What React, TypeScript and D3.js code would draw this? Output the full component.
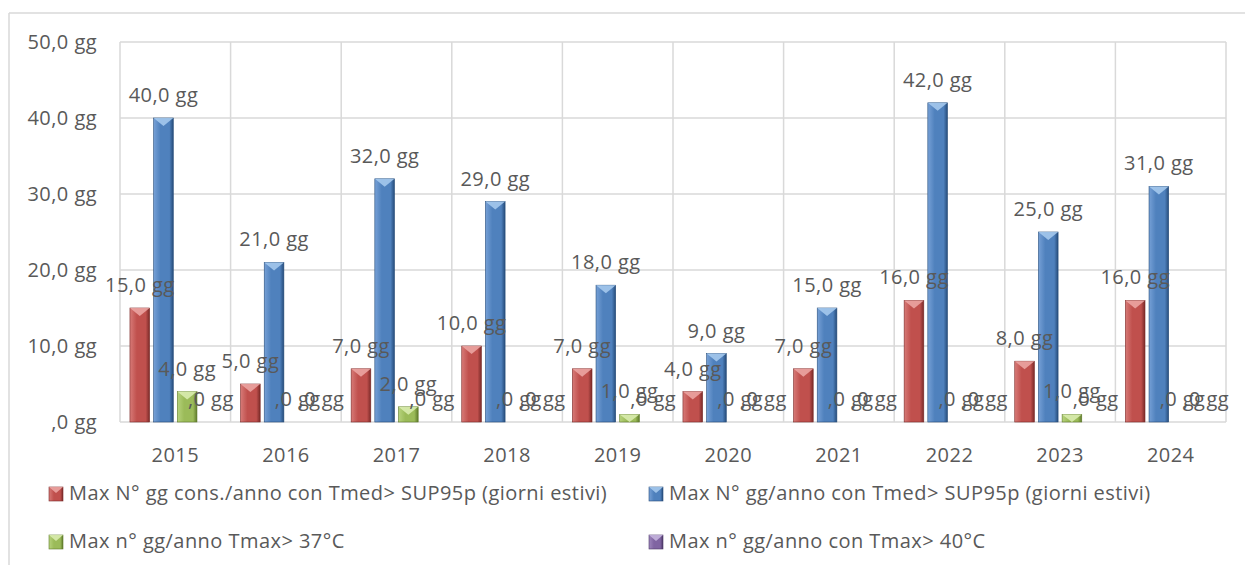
import React from "react";
import * as d3 from "d3";

const years = ["2015", "2016", "2017", "2018", "2019", "2020", "2021", "2022", "2023", "2024"];
const consDays = [15, 5, 7, 10, 7, 4, 7, 16, 8, 16];
const totalDays = [40, 21, 32, 29, 18, 9, 15, 42, 25, 31];
const over37 = [4, 0, 2, 0, 1, 0, 0, 0, 1, 0];
const over40 = [0, 0, 0, 0, 0, 0, 0, 0, 0, 0];
const yTicks = [0, 10, 20, 30, 40, 50];
const seriesNames = [
  "Max N° gg cons./anno con Tmed> SUP95p (giorni estivi)",
  "Max N° gg/anno con Tmed> SUP95p (giorni estivi)",
  "Max n° gg/anno Tmax> 37°C",
  "Max n° gg/anno con Tmax> 40°C",
];

const palette = [
  { base: "#C0504D", light: "#D77A77", dark: "#7A2A28", tip: "#EDA9A7" },
  { base: "#4F81BD", light: "#76A0D6", dark: "#264C7A", tip: "#A9CCF0" },
  { base: "#9BBB59", light: "#B7D37C", dark: "#5E7A2A", tip: "#DDEFB4" },
  { base: "#8064A2", light: "#9E86BD", dark: "#4B3766", tip: "#C9B8E0" },
];

const W = 1245;
const H = 565;
const plot = { left: 120, right: 1226, top: 42, bottom: 422 };
const FONT = "'Open Sans', 'DejaVu Sans', sans-serif";
const TEXT = "#595959";
const FS = 20;
const LS = 0.45;

const fmt = (v: number) => (v === 0 ? ",0 gg" : v.toFixed(1).replace(".", ",") + " gg");

export default function App() {
  const series = [consDays, totalDays, over37, over40];
  const x = d3.scaleBand<string>().domain(years).range([plot.left, plot.right]).padding(0);
  const inner = d3
    .scaleBand<number>()
    .domain([0, 1, 2, 3])
    .range([0, x.bandwidth()])
    .paddingOuter(0.42)
    .paddingInner(0.17);
  const y = d3.scaleLinear().domain([0, 50]).range([plot.bottom, plot.top]);
  const bw = inner.bandwidth();

  const legendPos = [
    { x: 49, y: 487 },
    { x: 649, y: 487 },
    { x: 49, y: 535 },
    { x: 649, y: 535 },
  ];

  return (
    <svg
      width={W}
      height={H}
      style={{ position: "fixed", left: 0, top: 0, background: "#fff" }}
      fontFamily={FONT}
      letterSpacing={LS}
    >
      <defs>
        {palette.map((p, i) => (
          <linearGradient key={i} id={`g${i}`} x1="0" x2="1" y1="0" y2="0">
            <stop offset="0%" stopColor={p.light} />
            <stop offset="35%" stopColor={p.base} />
            <stop offset="80%" stopColor={p.base} />
            <stop offset="100%" stopColor={p.dark} />
          </linearGradient>
        ))}
      </defs>
      {/* chart border */}
      <line x1={9} x2={W} y1={13} y2={13} stroke="#d9d9d9" strokeWidth={1.5} />
      <line x1={9} x2={9} y1={13} y2={H} stroke="#d9d9d9" strokeWidth={1.5} />

      {/* grid */}
      {yTicks.map((t) => (
        <line key={t} x1={plot.left} x2={plot.right} y1={y(t)} y2={y(t)} stroke="#d9d9d9" strokeWidth={1.5} />
      ))}
      {years.map((yr) => (
        <line key={yr} x1={x(yr)!} x2={x(yr)!} y1={plot.top} y2={plot.bottom} stroke="#d9d9d9" strokeWidth={1.5} />
      ))}
      <line x1={plot.right} x2={plot.right} y1={plot.top} y2={plot.bottom} stroke="#d9d9d9" strokeWidth={1.5} />

      {/* y labels */}
      {yTicks.map((t) => (
        <text key={t} x={97} y={y(t) + 7} textAnchor="end" fontSize={FS} fill={TEXT}>
          {fmt(t)}
        </text>
      ))}
      {/* x labels */}
      {years.map((yr) => (
        <text key={yr} x={x(yr)! + x.bandwidth() / 2} y={462} textAnchor="middle" fontSize={FS} fill={TEXT}>
          {yr}
        </text>
      ))}

      {/* bars */}
      {series.map((vals, si) =>
        vals.map((v, i) => {
          if (v === 0) return null;
          const bx = x(years[i])! + inner(si)!;
          const by = y(v);
          const h = y(0) - by;
          const tipH = Math.min(8, h);
          return (
            <g key={`${si}-${i}`}>
              <rect x={bx} y={by} width={bw} height={h} fill={`url(#g${si})`} stroke={palette[si].dark} strokeWidth={0.6} />
              <polygon
                points={`${bx},${by} ${bx + bw},${by} ${bx + bw / 2},${by + tipH}`}
                fill={palette[si].tip}
                opacity={0.85}
              />
            </g>
          );
        })
      )}

      {/* data labels */}
      {series.map((vals, si) =>
        vals.map((v, i) => {
          const cx = x(years[i])! + inner(si)! + bw / 2;
          return (
            <text key={`l${si}-${i}`} x={cx} y={y(v) - 16} textAnchor="middle" fontSize={FS} fill={TEXT}>
              {fmt(v)}
            </text>
          );
        })
      )}

      {/* legend */}
      {seriesNames.map((name, si) => {
        const p = legendPos[si];
        return (
          <g key={name}>
            <rect x={p.x} y={p.y} width={14} height={14} fill={`url(#g${si})`} stroke={palette[si].dark} strokeWidth={0.6} />
            <polygon points={`${p.x},${p.y} ${p.x + 14},${p.y} ${p.x + 7},${p.y + 6}`} fill={palette[si].tip} opacity={0.85} />
            <text x={p.x + 20} y={p.y + 13} fontSize={FS} fill={TEXT}>
              {name}
            </text>
          </g>
        );
      })}
    </svg>
  );
}
